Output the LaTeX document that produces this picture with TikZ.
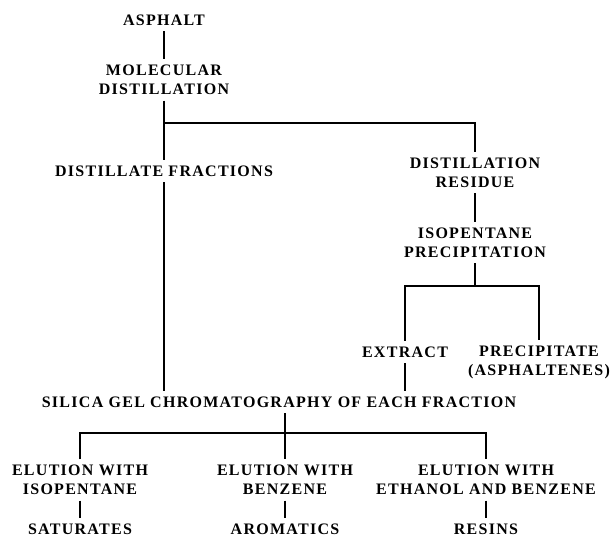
\documentclass[tikz,border=0pt]{standalone}
\usepackage{fontspec}
\setmainfont{Liberation Serif}[LetterSpace=8]
\usepackage{tikz}

\begin{document}
\begin{tikzpicture}[x=1pt,y=-1pt,line width=1.4pt,
    every node/.style={font=\bfseries\fontsize{16}{19}\selectfont,align=center,inner sep=5pt}]
    \useasboundingbox (0,0) rectangle (613,537);
    \node (asphalt) at (164,20) {ASPHALT};
    \node (molec) at (164,80) {MOLECULAR\\DISTILLATION};
    \draw (asphalt) edge (molec);
    \node (frac) at (164,171) {DISTILLATE FRACTIONS};
    \draw (molec) edge (frac);
    \node (resid) at (475,172.5) {DISTILLATION\\RESIDUE};
    \coordinate (split1) at (164,123);
    \draw (split1) -| (resid);
    \node (isopr) at (475,242.5) {ISOPENTANE\\PRECIPITATION};
    \draw (resid) edge (isopr);
    \node (extract) at (405,352) {EXTRACT};
    \node (precip) at (539,362) {PRECIPITATE\\(ASPHALTENES)};
    \coordinate (split2) at (475,286);
    \draw (isopr) edge (split2);
    \draw (extract) |- (split2) -| (precip);
    \node (silica) at (279,402) {SILICA GEL CHROMATOGRAPHY OF EACH FRACTION};
    \draw (frac) edge (frac |- silica.north);
    \draw (extract) edge (extract |- silica.north);
    % elution steps
    \node (elsat) at (80,480) {ELUTION WITH\\ISOPENTANE};
    \node (elaro) at (285,480) {ELUTION WITH\\BENZENE};
    \node (elres) at (486,480) {ELUTION WITH\\ETHANOL AND BENZENE};
    \coordinate (split3) at (285,433);
    \draw (silica.south -| elaro) edge (elaro);
    \draw (elsat) |- (split3) -| (elres);
    \node (sat) at (80,529) {SATURATES};
    \draw (elsat) edge (sat);
    \node (aro) at (285,529) {AROMATICS};
    \draw (elaro) edge (aro);
    \node (res) at (486,529) {RESINS};
    \draw (elres) edge (res);
\end{tikzpicture}
\end{document}
